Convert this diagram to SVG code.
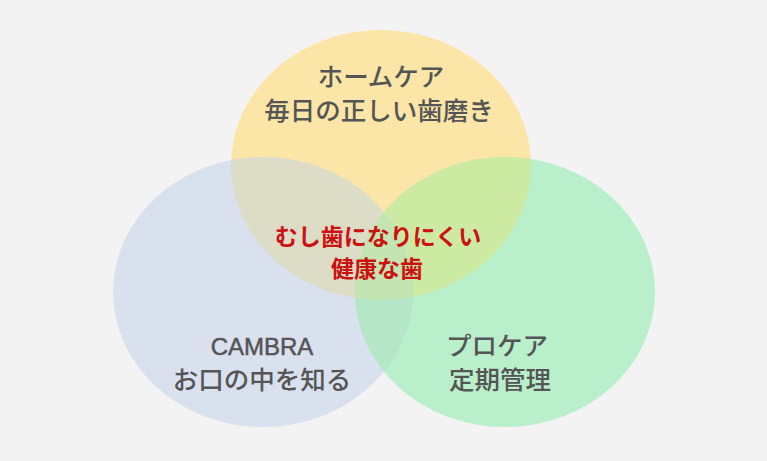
<svg xmlns="http://www.w3.org/2000/svg" width="767" height="461" viewBox="0 0 767 461">
<defs>
<style>
.lbl{font-family:"Noto Sans CJK JP","Liberation Sans",sans-serif;font-size:25.5px;font-weight:500;fill:#555555;text-anchor:middle}
.lat{font-family:"Liberation Sans","Noto Sans CJK JP",sans-serif;font-size:24px;fill:#555555;stroke:#555555;stroke-width:0.5;text-anchor:middle}
.ctr{font-family:"Noto Sans CJK JP","Liberation Sans",sans-serif;font-size:23px;font-weight:bold;fill:#cc1111;text-anchor:middle}
</style>
<clipPath id="cY"><ellipse cx="381" cy="165" rx="150" ry="135"/></clipPath>
<clipPath id="cB"><ellipse cx="263" cy="292" rx="150" ry="135"/></clipPath>
</defs>
<rect width="767" height="461" fill="#f3f3f3"/>
<g id="homecare">
<ellipse cx="381" cy="165" rx="150" ry="135" fill="#fbe6a8"/>
</g>
<g id="cambra">
<ellipse cx="263" cy="292" rx="150" ry="135" fill="#d9e1ef"/>
</g>
<g id="procare">
<ellipse cx="505" cy="292" rx="150" ry="135" fill="#b9efca"/>
</g>
<g id="overlaps">
<g clip-path="url(#cY)"><ellipse cx="263" cy="292" rx="150" ry="135" fill="#dddcc7"/></g>
<g clip-path="url(#cY)"><ellipse cx="505" cy="292" rx="150" ry="135" fill="#cdeaa2"/></g>
<g clip-path="url(#cB)"><ellipse cx="505" cy="292" rx="150" ry="135" fill="#b5e6c8"/></g>
<g clip-path="url(#cB)"><g clip-path="url(#cY)"><ellipse cx="505" cy="292" rx="150" ry="135" fill="#c4e4b2"/></g></g>
</g>
<g id="labels">
<text class="lbl" x="381" y="86">ホームケア</text>
<text class="lbl" x="379" y="120">毎日の正しい歯磨き</text>
<text class="lat" x="262" y="355">CAMBRA</text>
<text class="lbl" x="262" y="389">お口の中を知る</text>
<text class="lbl" x="497" y="355">プロケア</text>
<text class="lbl" x="500" y="389">定期管理</text>
</g>
<g id="center">
<text class="ctr" x="378" y="245">むし歯になりにくい</text>
<text class="ctr" x="377" y="277">健康な歯</text>
</g>
</svg>
